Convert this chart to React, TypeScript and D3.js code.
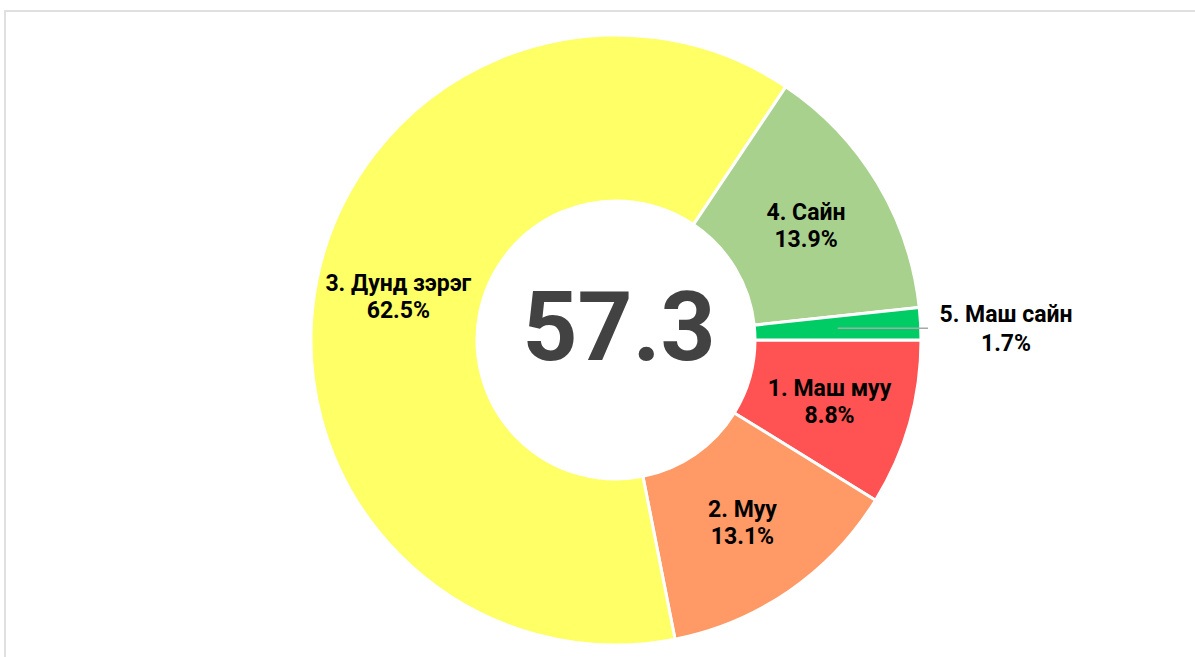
import React from "react";
import * as d3 from "d3";

const categories = ["1. Маш муу", "2. Муу", "3. Дунд зэрэг", "4. Сайн", "5. Маш сайн"];
const values = [8.8, 13.1, 62.5, 13.9, 1.7];
const colors = ["#FF5252", "#FF9966", "#FFFF66", "#A9D18E", "#00CC66"];
const centerValue = "57.3";
const outsideLabels = [false, false, false, false, true];

const W = 1195;
const H = 657;

export default function App() {
  const cx = 616;
  const cy = 340;
  const outerR = 305;
  const innerR = 139;
  const midR = (outerR + innerR) / 2;

  const pie = d3
    .pie<number>()
    .sort(null)
    .value((d) => d)
    .startAngle(Math.PI / 2)
    .endAngle(Math.PI / 2 + 2 * Math.PI);
  const arcs = pie(values);
  const arc = d3.arc<d3.PieArcDatum<number>>().innerRadius(innerR).outerRadius(outerR);
  const labelArc = d3.arc<d3.PieArcDatum<number>>().innerRadius(midR).outerRadius(midR);

  const font = "Roboto, 'Noto Sans', sans-serif";
  const fs = 23;

  return (
    <svg
      width={W}
      height={H}
      style={{ position: "absolute", left: 0, top: 0, background: "#fff" }}
    >
      <rect x={5} y={11} width={W + 20} height={H + 20} fill="#fff" stroke="#e0e0e0" strokeWidth={2} />
      <g transform={`translate(${cx},${cy})`}>
        {arcs.map((a, i) => (
          <path key={i} d={arc(a) || ""} fill={colors[i]} stroke="#fff" strokeWidth={3} />
        ))}
        <text
          x={3}
          y={0}
          dy={20}
          textAnchor="middle"
          fontFamily={font}
          fontWeight={700}
          fontSize={96}
          fill="#424242"
        >
          {centerValue}
        </text>
        {arcs.map((a, i) => {
          const [lx, ly] = labelArc.centroid(a);
          const pct = `${values[i].toFixed(1)}%`;
          if (outsideLabels[i]) {
            const ex = outerR + 7;
            const tx = ex + 78;
            return (
              <g key={"l" + i}>
                <line x1={lx} y1={ly} x2={ex} y2={ly} stroke="#a8a8a8" strokeWidth={1.5} />
                <text
                  x={tx}
                  y={ly}
                  textAnchor="middle"
                  fontFamily={font}
                  fontWeight={700}
                  fontSize={fs}
                  fill="#000"
                >
                  <tspan x={tx} dy={-6}>{categories[i]}</tspan>
                  <tspan x={tx} dy={29}>{pct}</tspan>
                </text>
              </g>
            );
          }
          return (
            <text
              key={"l" + i}
              x={lx}
              y={ly}
              textAnchor="middle"
              fontFamily={font}
              fontWeight={700}
              fontSize={fs}
              fill="#000"
            >
              <tspan x={lx} dy={-5}>{categories[i]}</tspan>
              <tspan x={lx} dy={27}>{pct}</tspan>
            </text>
          );
        })}
      </g>
    </svg>
  );
}
